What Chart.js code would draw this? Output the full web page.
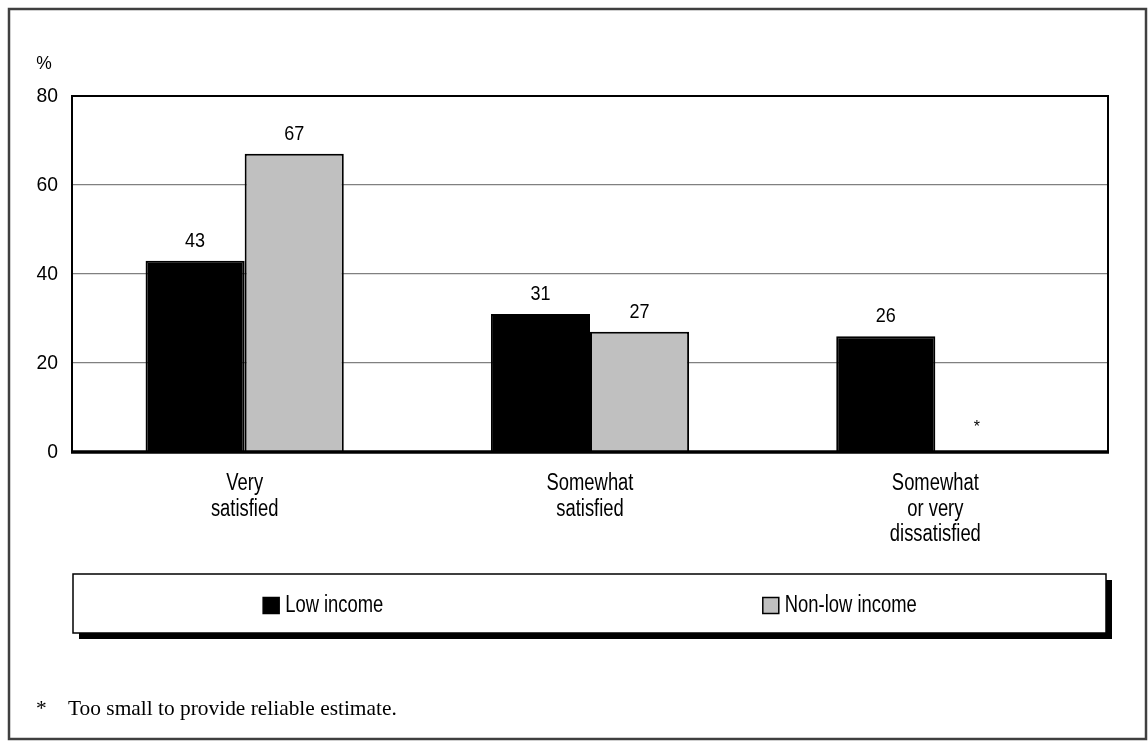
<!DOCTYPE html>
<html lang="en">
<head>
<meta charset="UTF-8">
<title>Satisfaction by income</title>
<script src="https://cdn.jsdelivr.net/npm/chart.js"></script>
<style>
  body { margin: 0; background: #fff; }
  #wrap { width: 1148px; height: 741px; }
</style>
</head>
<body>
<div id="wrap"><canvas id="chart"></canvas></div>
<script>
// chart data
const categories = [['Very', 'satisfied'], ['Somewhat', 'satisfied'], ['Somewhat', 'or very', 'dissatisfied']];
const lowIncome = [43, 31, 26];
const nonLowIncome = [67, 27, null];
const lowLabels = ['43', '31', '26'];
const nonLowLabels = ['67', '27', '*'];
const seriesNames = ['Low income', 'Non-low income'];
const yMin = 0, yMax = 80, yStep = 20;
const yUnit = '%';
const footnote = 'Too small to provide reliable estimate.';

const sans = '"Liberation Sans", Arial, sans-serif';
const valueLabels = [lowLabels, nonLowLabels];

// no narrow face installed, so squeeze the sans text horizontally
function narrowText(ctx, txt, x, y, size, sx, align, baseline) {
  ctx.save();
  ctx.translate(x, y);
  ctx.scale(sx, 1);
  ctx.font = size + 'px ' + sans;
  ctx.textAlign = align;
  ctx.textBaseline = baseline;
  ctx.fillStyle = '#000';
  ctx.fillText(txt, 0, 0);
  ctx.restore();
}

const decor = {
  id: 'decor',
  beforeDraw(chart) {
    const ctx = chart.ctx;
    ctx.save();
    ctx.fillStyle = '#fff';
    ctx.fillRect(0, 0, chart.width, chart.height);
    ctx.strokeStyle = '#404040';
    ctx.lineWidth = 2.5;
    ctx.strokeRect(9, 9, 1137, 730);
    ctx.restore();
  },
  afterDatasetsDraw(chart) {
    const ctx = chart.ctx;
    const a = chart.chartArea;
    const xs = chart.scales.x;
    const ys = chart.scales.y;
    ctx.save();

    // plot frame
    ctx.strokeStyle = '#000';
    ctx.lineWidth = 2;
    ctx.strokeRect(a.left, a.top, a.right - a.left, a.bottom - a.top);
    ctx.lineWidth = 3.5;
    ctx.beginPath();
    ctx.moveTo(a.left - 1, a.bottom);
    ctx.lineTo(a.right + 1, a.bottom);
    ctx.stroke();

    // y tick labels + unit
    ys.ticks.forEach(t => {
      narrowText(ctx, String(t.value), a.left - 14, ys.getPixelForValue(t.value), 21, 0.92, 'right', 'middle');
    });
    narrowText(ctx, yUnit, a.left - 28, a.top - 32, 19, 0.92, 'center', 'middle');

    // category labels
    chart.data.labels.forEach((lines, i) => {
      const cx = xs.getPixelForValue(i);
      lines.forEach((ln, k) => {
        narrowText(ctx, ln, cx, a.bottom + 38 + k * 25.5, 23, 0.8, 'center', 'alphabetic');
      });
    });

    // value labels
    chart.data.datasets.forEach((ds, di) => {
      const meta = chart.getDatasetMeta(di);
      meta.data.forEach((bar, i) => {
        const txt = valueLabels[di][i];
        if (ds.data[i] == null) {
          const x = isFinite(bar.x) ? bar.x : chart.getDatasetMeta(0).data[i].x + 99;
          ctx.font = '16px ' + sans;
          ctx.fillStyle = '#000';
          ctx.textAlign = 'center';
          ctx.textBaseline = 'middle';
          ctx.fillText(txt, x - 8, ys.getPixelForValue(0) - 24);
        } else {
          narrowText(ctx, txt, bar.x, bar.y - 14, 20, 0.9, 'center', 'alphabetic');
        }
      });
    });

    // legend box with drop shadow
    const lx = 73, ly = 574, lw = 1033, lh = 59;
    ctx.fillStyle = '#000';
    ctx.fillRect(lx + 6, ly + 6, lw, lh);
    ctx.fillStyle = '#fff';
    ctx.fillRect(lx, ly, lw, lh);
    ctx.strokeStyle = '#000';
    ctx.lineWidth = 1.5;
    ctx.strokeRect(lx, ly, lw, lh);

    chart.data.datasets.forEach((ds, di) => {
      const half = lw / 2;
      ctx.font = '23px ' + sans;
      const tw = ctx.measureText(ds.label).width * 0.8;
      const itemW = 16 + 6 + tw;
      const sx = lx + half * di + (half - itemW) / 2 - 8;
      const cy = ly + lh / 2 + 2;
      ctx.fillStyle = ds.backgroundColor;
      ctx.fillRect(sx, cy - 8, 16, 16);
      ctx.strokeStyle = '#000';
      ctx.lineWidth = 1.5;
      ctx.strokeRect(sx, cy - 8, 16, 16);
      narrowText(ctx, ds.label, sx + 22, cy, 23, 0.8, 'left', 'middle');
    });

    // footnote
    ctx.fillStyle = '#000';
    ctx.font = '21.4px "Liberation Serif", "Times New Roman", serif';
    ctx.textAlign = 'left';
    ctx.textBaseline = 'alphabetic';
    ctx.fillText('*', 36, 715);
    ctx.fillText(footnote, 68, 715);
    ctx.restore();
  }
};

new Chart(document.getElementById('chart'), {
  type: 'bar',
  data: {
    labels: categories,
    datasets: [{
      label: seriesNames[0],
      data: lowIncome,
      backgroundColor: '#000000',
      borderColor: '#000000',
      borderWidth: 2
    }, {
      label: seriesNames[1],
      data: nonLowIncome,
      backgroundColor: '#c0c0c0',
      borderColor: '#000000',
      borderWidth: 2
    }]
  },
  options: {
    responsive: true,
    maintainAspectRatio: false,
    animation: false,
    events: [],
    barPercentage: 1,
    categoryPercentage: 0.574,
    layout: { padding: { left: 0, top: 96, right: 40, bottom: 0 } },
    plugins: {
      legend: { display: false },
      tooltip: { enabled: false }
    },
    scales: {
      x: {
        grid: { display: false, drawTicks: false },
        border: { display: false },
        ticks: { display: false },
        afterFit(scale) { scale.height = 741 - 96 - 356; }
      },
      y: {
        min: yMin,
        max: yMax,
        grid: {
          drawTicks: false,
          color: ctx => (ctx.tick && (ctx.tick.value === yMin || ctx.tick.value === yMax)) ? 'rgba(0,0,0,0)' : '#808080',
          lineWidth: 1.2
        },
        border: { display: false },
        ticks: { stepSize: yStep, display: false },
        afterFit(scale) { scale.width = 72; }
      }
    }
  },
  plugins: [decor]
});
</script>
</body>
</html>
